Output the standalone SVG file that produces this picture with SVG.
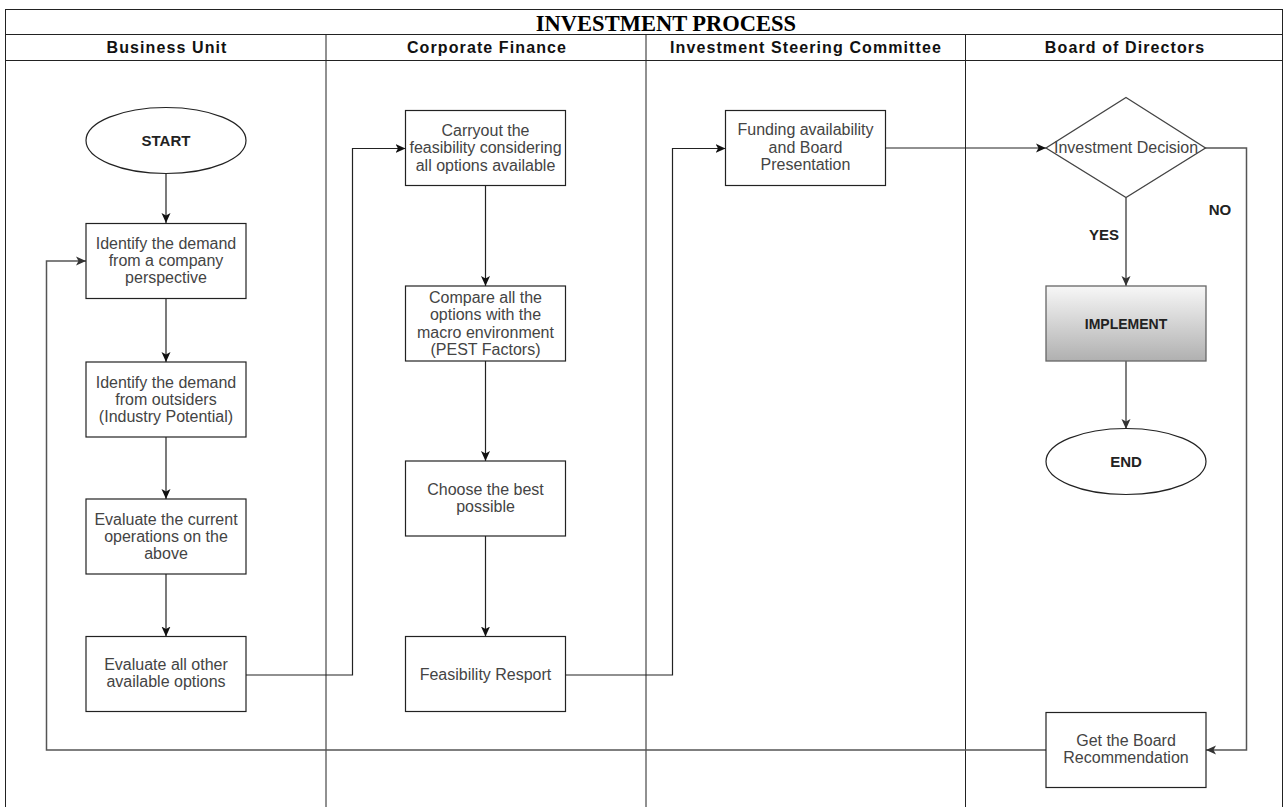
<svg xmlns="http://www.w3.org/2000/svg" width="1283" height="807" viewBox="0 0 1283 807">
<defs>
<style>
.lane{fill:none;stroke:#222;stroke-width:1}
.box{fill:#fff;stroke:#222;stroke-width:1.2}
.t{font-family:"Liberation Sans",Arial,sans-serif;font-size:16px;fill:#444;text-anchor:middle}
.tb{font-family:"Liberation Sans",Arial,sans-serif;font-size:15px;font-weight:bold;fill:#222;text-anchor:middle}
.hd{font-family:"Liberation Sans",Arial,sans-serif;font-size:16px;font-weight:bold;fill:#111;text-anchor:middle;letter-spacing:1.1px}
.title{font-family:"Liberation Serif","Times New Roman",serif;font-size:22.5px;font-weight:bold;fill:#000;text-anchor:middle}
.c{fill:none;stroke:#222;stroke-width:1.2}
.cg{fill:none;stroke:#555;stroke-width:1.5}
</style>
<marker id="ah" markerWidth="11" markerHeight="10" refX="10" refY="5" orient="auto" markerUnits="userSpaceOnUse">
<path d="M0,0.5 L10,5 L0,9.5 L2.5,5 z" fill="#111"/>
</marker>
<marker id="ahg" markerWidth="11" markerHeight="10" refX="10" refY="5" orient="auto" markerUnits="userSpaceOnUse">
<path d="M0,0.5 L10,5 L0,9.5 L2.5,5 z" fill="#333"/>
</marker>
<linearGradient id="gimp" x1="0" y1="0" x2="0" y2="1">
<stop offset="0" stop-color="#f7f7f7"/>
<stop offset="1" stop-color="#b0b0b0"/>
</linearGradient>
</defs>
<rect width="1283" height="807" fill="#fff"/>

<g id="pool">
<rect class="lane" x="5.5" y="9.5" width="1277" height="820"/>
<line class="lane" x1="5" y1="34.5" x2="1283" y2="34.5"/>
<line class="lane" x1="5" y1="60.5" x2="1283" y2="60.5"/>
<line class="lane" x1="326" y1="34" x2="326" y2="807"/>
<line class="lane" x1="646" y1="34" x2="646" y2="807"/>
<line class="lane" x1="965.5" y1="34" x2="965.5" y2="807"/>
<text class="title" x="666" y="31">INVESTMENT PROCESS</text>
<text class="hd" x="167" y="53">Business Unit</text>
<text class="hd" x="487" y="53">Corporate Finance</text>
<text class="hd" x="806" y="53">Investment Steering Committee</text>
<text class="hd" x="1125" y="53">Board of Directors</text>
</g>

<g id="connectors">
<line class="c" x1="166" y1="173" x2="166" y2="223" marker-end="url(#ah)"/>
<line class="c" x1="166" y1="298" x2="166" y2="362" marker-end="url(#ah)"/>
<line class="c" x1="166" y1="437" x2="166" y2="499" marker-end="url(#ah)"/>
<line class="c" x1="166" y1="574" x2="166" y2="636.5" marker-end="url(#ah)"/>
<polyline class="c" points="246,675 352.5,675 352.5,148.5 405.5,148.5" marker-end="url(#ah)"/>
<line class="c" x1="485.5" y1="186" x2="485.5" y2="286" marker-end="url(#ah)"/>
<line class="c" x1="485.5" y1="361" x2="485.5" y2="461" marker-end="url(#ah)"/>
<line class="c" x1="485.5" y1="536" x2="485.5" y2="636.5" marker-end="url(#ah)"/>
<polyline class="c" points="566,675 672.5,675 672.5,148.5 725.5,148.5" marker-end="url(#ah)"/>
<line class="c" x1="886" y1="148" x2="1046" y2="148" marker-end="url(#ah)"/>
<line class="cg" x1="1126" y1="197.5" x2="1126" y2="286" marker-end="url(#ahg)"/>
<line class="cg" x1="1126" y1="361" x2="1126" y2="429" marker-end="url(#ahg)"/>
<polyline class="cg" points="1205,148 1246.5,148 1246.5,750 1206,750" marker-end="url(#ahg)"/>
<polyline class="cg" points="1046,750 46.5,750 46.5,261 86,261" marker-end="url(#ahg)"/>
<text class="tb" x="1104" y="240">YES</text>
<text class="tb" x="1220" y="215">NO</text>
</g>

<g id="start">
<ellipse class="box" cx="166" cy="140.5" rx="80" ry="33"/>
<text class="tb" x="166" y="146">START</text>
</g>
<g id="bu1">
<rect class="box" x="86" y="223.5" width="160" height="75"/>
<text class="t" x="166" y="248.5">Identify the demand</text>
<text class="t" x="166" y="265.5">from a company</text>
<text class="t" x="166" y="282.5">perspective</text>
</g>
<g id="bu2">
<rect class="box" x="86" y="362" width="160" height="75"/>
<text class="t" x="166" y="387.5">Identify the demand</text>
<text class="t" x="166" y="404.5">from outsiders</text>
<text class="t" x="166" y="421.5">(Industry Potential)</text>
</g>
<g id="bu3">
<rect class="box" x="86" y="499" width="160" height="75"/>
<text class="t" x="166" y="524.5">Evaluate the current</text>
<text class="t" x="166" y="541.5">operations on the</text>
<text class="t" x="166" y="558.5">above</text>
</g>
<g id="bu4">
<rect class="box" x="86" y="636.5" width="160" height="75"/>
<text class="t" x="166" y="669.5">Evaluate all other</text>
<text class="t" x="166" y="687">available options</text>
</g>

<g id="cf1">
<rect class="box" x="405.5" y="110.5" width="160" height="75"/>
<text class="t" x="485.5" y="135.5">Carryout the</text>
<text class="t" x="485.5" y="153">feasibility considering</text>
<text class="t" x="485.5" y="170.5">all options available</text>
</g>
<g id="cf2">
<rect class="box" x="405.5" y="286" width="160" height="75"/>
<text class="t" x="485.5" y="302.5">Compare all the</text>
<text class="t" x="485.5" y="320">options with the</text>
<text class="t" x="485.5" y="337.5">macro environment</text>
<text class="t" x="485.5" y="354.5">(PEST Factors)</text>
</g>
<g id="cf3">
<rect class="box" x="405.5" y="461" width="160" height="75"/>
<text class="t" x="485.5" y="494.5">Choose the best</text>
<text class="t" x="485.5" y="511.5">possible</text>
</g>
<g id="cf4">
<rect class="box" x="405.5" y="636.5" width="160" height="75"/>
<text class="t" x="485.5" y="679.5">Feasibility Resport</text>
</g>

<g id="isc1">
<rect class="box" x="725.5" y="110.5" width="160" height="75"/>
<text class="t" x="805.5" y="135">Funding availability</text>
<text class="t" x="805.5" y="152.5">and Board</text>
<text class="t" x="805.5" y="169.5">Presentation</text>
</g>

<g id="decision">
<polygon points="1126,97.5 1205.5,148 1126,197.5 1046,148" fill="#fff" stroke="#444" stroke-width="1.3"/>
<text class="t" x="1126" y="153">Investment Decision</text>
</g>
<g id="implement">
<rect x="1046" y="286" width="160" height="75" fill="url(#gimp)" stroke="#666" stroke-width="1.3"/>
<text class="tb" x="1126" y="329" style="font-size:14px">IMPLEMENT</text>
</g>
<g id="end">
<ellipse class="box" cx="1126" cy="461.5" rx="80" ry="33"/>
<text class="tb" x="1126" y="467">END</text>
</g>
<g id="board-rec">
<rect class="box" x="1046" y="712.5" width="160" height="75"/>
<text class="t" x="1126" y="745.5">Get the Board</text>
<text class="t" x="1126" y="763">Recommendation</text>
</g>
</svg>
